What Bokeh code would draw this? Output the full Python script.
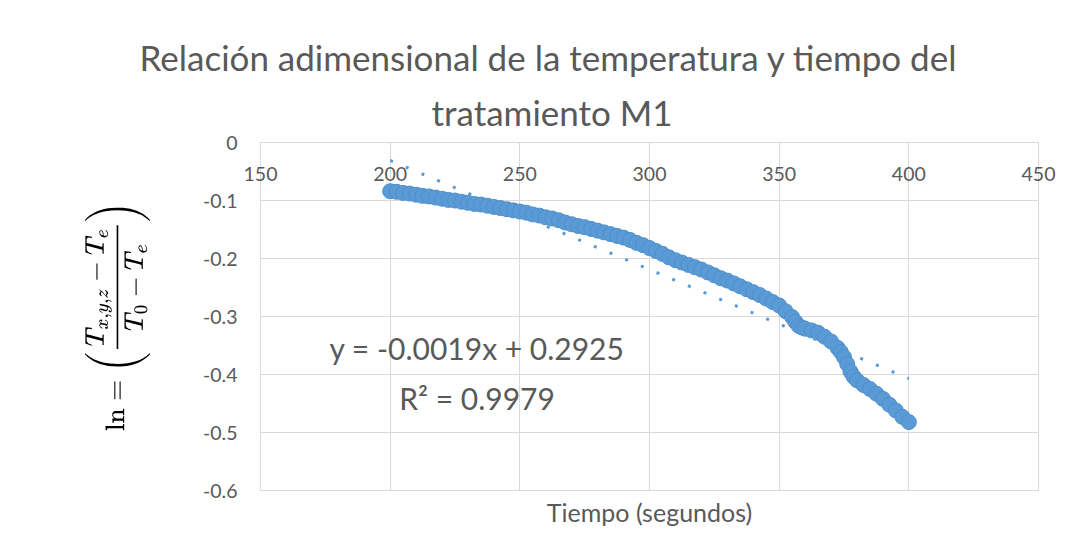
from bokeh.plotting import figure
from bokeh.models import Range1d, LinearAxis, FixedTicker, Label, ColumnDataSource, PrintfTickFormatter, Title
from bokeh.embed import file_html
from bokeh.resources import INLINE

title_lines = ["Relación adimensional de la temperatura y tiempo del", "tratamiento M1"]
x_title = "Tiempo (segundos)"
y_title = r"$$\ln = \left(\frac{T_{x,y,z}-T_e}{T_0-T_e}\right)$$"
x_ticks = [150, 200, 250, 300, 350, 400, 450]
y_ticks = [0, -0.1, -0.2, -0.3, -0.4, -0.5, -0.6]

tiempo = [200, 202.5, 205, 207.5, 210, 212.5, 215, 217.5, 220, 222.5,
          225, 227.5, 230, 232.5, 235, 237.5, 240, 242.5, 245, 247.5,
          250, 252.5, 255, 257.5, 260, 262.5, 265, 267.5, 270, 272.5,
          275, 277.5, 280, 282.5, 285, 287.5, 290, 292.5, 295, 297.5,
          300, 302.5, 305, 307.5, 310, 312.5, 315, 317.5, 320, 322.5,
          325, 327.5, 330, 332.5, 335, 337.5, 340, 342.5, 345, 347.5,
          350, 352.5, 355, 356.25, 357.5, 358.75, 360, 362.5, 365, 367.5, 370, 372.5,
          373.75, 375, 376.25, 377.5, 378.75, 380, 382.5, 385, 387.5, 390, 392.5, 395, 397.5, 400]
ln_ratio = [-0.084, -0.085, -0.087, -0.088, -0.090, -0.092, -0.093, -0.095, -0.097, -0.099,
            -0.100, -0.102, -0.104, -0.106, -0.107, -0.109, -0.111, -0.113, -0.115, -0.117,
            -0.119, -0.121, -0.124, -0.126, -0.129, -0.131, -0.134, -0.138, -0.141, -0.144,
            -0.146, -0.149, -0.152, -0.155, -0.158, -0.161, -0.164, -0.168, -0.173, -0.177,
            -0.182, -0.187, -0.192, -0.198, -0.203, -0.207, -0.211, -0.215, -0.219, -0.224,
            -0.229, -0.234, -0.238, -0.243, -0.248, -0.253, -0.258, -0.263, -0.269, -0.275,
            -0.281, -0.291, -0.301, -0.309, -0.316, -0.319, -0.321, -0.324, -0.328, -0.335, -0.343, -0.354,
            -0.361, -0.370, -0.382, -0.395, -0.404, -0.410, -0.418, -0.425, -0.433, -0.442, -0.452, -0.462, -0.473, -0.482]

trend_x = [200, 400]
trend_y = [-0.031, -0.407]
eq_lines = ["y = -0.0019x + 0.2925", "R² = 0.9979"]

FONT = "Lato"
GREY = "#595959"
GRID = "#d9d9d9"
BLUE = "#5B9BD5"

p = figure(width=1064, height=538, x_range=Range1d(150, 450), y_range=Range1d(-0.6, 0),
           output_backend="svg", toolbar_location=None, x_axis_location=None,
           min_border_left=260, min_border_right=26, min_border_top=142, min_border_bottom=48)
p.outline_line_color = GRID
p.background_fill_color = "white"
p.border_fill_color = "white"

# grids
p.xgrid.ticker = FixedTicker(ticks=x_ticks)
p.ygrid.ticker = FixedTicker(ticks=y_ticks)
p.grid.grid_line_color = GRID
p.grid.grid_line_width = 1

# y axis
ya = p.yaxis[0]
ya.ticker = FixedTicker(ticks=y_ticks)
ya.formatter = PrintfTickFormatter(format="%g")
ya.axis_line_color = None
ya.major_tick_line_color = None
ya.minor_tick_line_color = None
ya.major_tick_out = 0
ya.major_tick_in = 0
ya.minor_tick_out = 0
ya.major_label_standoff = 23
ya.major_label_text_font = FONT
ya.major_label_text_font_size = "19.5px"
ya.major_label_text_color = GREY
ya.axis_label = y_title
ya.axis_label_text_font_size = "22px"
ya.axis_label_text_color = "black"
ya.axis_label_standoff = 50

# x axis along y = 0 (top edge), labels hanging below the line
xa = LinearAxis(ticker=FixedTicker(ticks=x_ticks))
xa.axis_line_color = GRID
xa.major_tick_line_color = None
xa.minor_tick_line_color = None
xa.major_tick_out = 0
xa.major_tick_in = 0
xa.minor_tick_out = 0
xa.major_label_standoff = -38
xa.major_label_text_font = FONT
xa.major_label_text_font_size = "19.5px"
xa.major_label_text_color = GREY
p.add_layout(xa, "above")

# titles
t2 = Title(text=title_lines[1], align="left", offset=171, standoff=20, text_font=FONT,
           text_font_size="35px", text_font_style="normal", text_color=GREY)
p.add_layout(t2, "above")
t1 = Title(text=title_lines[0], align="left", offset=-121, standoff=2, text_font=FONT,
           text_font_size="35px", text_font_style="normal", text_color=GREY)
p.add_layout(t1, "above")

tx = Title(text=x_title, align="center", vertical_align="top", standoff=13, text_font=FONT,
           text_font_size="25px", text_font_style="normal", text_color=GREY)
p.add_layout(tx, "below")

src = ColumnDataSource(data=dict(x=tiempo, y=ln_ratio))
p.scatter(x="x", y="y", source=src, size=15, fill_color=BLUE, line_color="#4E8FCC", line_width=1)

p.line(trend_x, trend_y, line_color=BLUE, line_width=3, line_dash="3 14")

# equation labels
p.add_layout(Label(x=233.5, y=-0.354, text=eq_lines[0], text_align="center", text_baseline="middle",
                   text_font=FONT, text_font_size="30px", text_color=GREY))
p.add_layout(Label(x=233.5, y=-0.440, text=eq_lines[1], text_align="center", text_baseline="middle",
                   text_font=FONT, text_font_size="30px", text_color=GREY))

open("out.html", "w").write(file_html(p, INLINE))
